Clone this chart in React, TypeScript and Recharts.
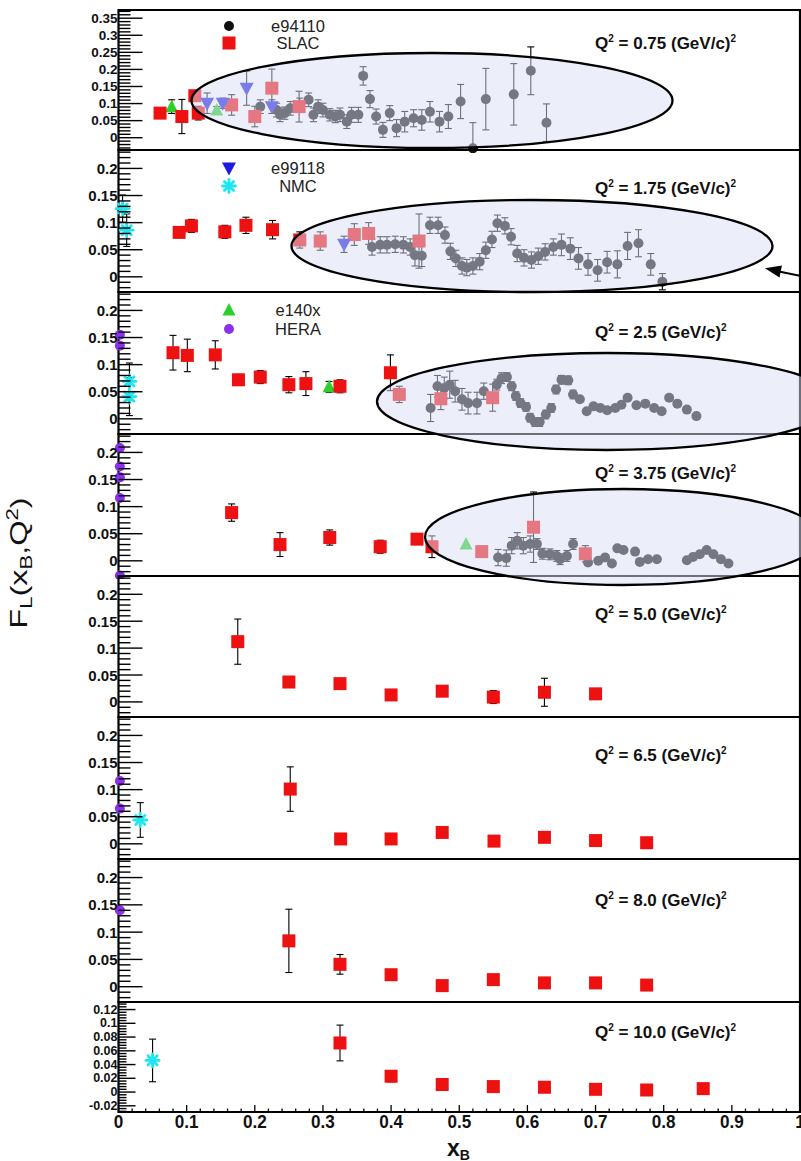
import { ErrorBar, ReferenceArea, Scatter, ScatterChart, XAxis, YAxis } from "recharts";

// [x, F_L, error, lowerError?]
type Pt = [number, number, number, number?];

const FONT = '"Liberation Sans", Arial, Helvetica, sans-serif';

// x axis
const X_LABELS = [0, 0.1, 0.2, 0.3, 0.4, 0.5, 0.6, 0.7, 0.8, 0.9, 1];
// y axis labels
const Y_LABELS_TOP = [0, 0.05, 0.1, 0.15, 0.2, 0.25, 0.3, 0.35];
const Y_LABELS_MID = [0, 0.05, 0.1, 0.15, 0.2];
const Y_LABELS_LOW = [-0.02, 0, 0.02, 0.04, 0.06, 0.08, 0.1, 0.12];

// Q2 = 0.75
const Q075_E94110: Pt[] = [
  [0.208, 0.091, 0.02], [0.232, 0.081, 0.02], [0.237, 0.067, 0.02], [0.244, 0.072, 0.018],
  [0.252, 0.086, 0.02], [0.266, 0.096, 0.02], [0.279, 0.111, 0.02], [0.286, 0.067, 0.02],
  [0.293, 0.091, 0.02], [0.3, 0.081, 0.02], [0.31, 0.067, 0.018], [0.318, 0.062, 0.018],
  [0.325, 0.067, 0.02], [0.335, 0.047, 0.02], [0.342, 0.067, 0.022], [0.352, 0.067, 0.022],
  [0.359, 0.181, 0.027], [0.369, 0.113, 0.025], [0.378, 0.062, 0.022], [0.388, 0.023, 0.022],
  [0.398, 0.072, 0.022], [0.408, 0.028, 0.025], [0.42, 0.047, 0.03], [0.433, 0.057, 0.025],
  [0.445, 0.052, 0.03], [0.457, 0.076, 0.03], [0.471, 0.047, 0.03], [0.484, 0.062, 0.035],
  [0.502, 0.106, 0.05], [0.52, -0.031, 0.075, 0.004], [0.539, 0.113, 0.09], [0.58, 0.127, 0.09],
  [0.605, 0.196, 0.07], [0.628, 0.044, 0.055],
];
const Q075_SLAC: Pt[] = [
  [0.061, 0.072, 0.01], [0.093, 0.062, 0.05], [0.112, 0.123, 0.015], [0.117, 0.072, 0.02],
  [0.166, 0.096, 0.03], [0.2, 0.062, 0.03], [0.225, 0.145, 0.056], [0.265, 0.091, 0.045],
];
const Q075_E99118: Pt[] = [[0.13, 0.101, 0.03], [0.153, 0.101, 0.015], [0.188, 0.145, 0.05], [0.225, 0.091, 0.02]];
const Q075_E140X: Pt[] = [[0.078, 0.091, 0.02], [0.144, 0.081, 0.01]];

// Q2 = 1.75
const Q175_NMC: Pt[] = [[0.006, 0.126, 0.025], [0.012, 0.086, 0.03]];
const Q175_SLAC: Pt[] = [
  [0.089, 0.082, 0.01], [0.107, 0.094, 0.012], [0.156, 0.083, 0.012], [0.187, 0.095, 0.015],
  [0.226, 0.087, 0.017], [0.266, 0.068, 0.015], [0.296, 0.066, 0.017], [0.346, 0.078, 0.02],
  [0.367, 0.08, 0.02], [0.441, 0.066, 0.05],
];
const Q175_E99118: Pt[] = [[0.331, 0.06, 0.015]];
const Q175_E94110: Pt[] = [
  [0.372, 0.055, 0.015], [0.384, 0.059, 0.015], [0.394, 0.059, 0.015], [0.406, 0.06, 0.015],
  [0.418, 0.059, 0.015], [0.428, 0.055, 0.015], [0.435, 0.04, 0.02], [0.445, 0.039, 0.02],
  [0.457, 0.095, 0.015], [0.469, 0.095, 0.015], [0.479, 0.077, 0.015], [0.487, 0.047, 0.015],
  [0.495, 0.034, 0.015], [0.504, 0.02, 0.015], [0.511, 0.017, 0.015], [0.52, 0.02, 0.015],
  [0.53, 0.028, 0.015], [0.539, 0.049, 0.015], [0.548, 0.069, 0.015], [0.556, 0.099, 0.015],
  [0.567, 0.094, 0.015], [0.576, 0.074, 0.015], [0.585, 0.043, 0.015], [0.595, 0.035, 0.015],
  [0.606, 0.031, 0.015], [0.616, 0.038, 0.015], [0.626, 0.046, 0.015], [0.638, 0.055, 0.015],
  [0.65, 0.059, 0.02], [0.663, 0.052, 0.02], [0.675, 0.034, 0.02], [0.689, 0.023, 0.02],
  [0.703, 0.012, 0.02], [0.717, 0.027, 0.02], [0.732, 0.023, 0.025], [0.747, 0.057, 0.025],
  [0.763, 0.062, 0.025], [0.781, 0.023, 0.02], [0.798, -0.009, 0.015],
];

// Q2 = 2.5
const Q25_HERA: Pt[] = [[0.002, 0.155, 0], [0.002, 0.135, 0]];
const Q25_NMC: Pt[] = [[0.016, 0.069, 0.034], [0.016, 0.041, 0.035]];
const Q25_SLAC: Pt[] = [
  [0.08, 0.122, 0.032], [0.101, 0.117, 0.03], [0.142, 0.118, 0.026], [0.176, 0.072, 0.01],
  [0.208, 0.077, 0.012], [0.25, 0.063, 0.015], [0.275, 0.065, 0.022], [0.325, 0.06, 0.012],
  [0.399, 0.085, 0.033], [0.412, 0.045, 0.015], [0.473, 0.037, 0.02], [0.549, 0.039, 0.025],
];
const Q25_E140X: Pt[] = [[0.309, 0.059, 0.01]];
const Q25_E94110: Pt[] = [
  [0.458, 0.02, 0.025], [0.468, 0.06, 0.02], [0.478, 0.057, 0.02], [0.486, 0.063, 0.025],
  [0.494, 0.051, 0.02], [0.504, 0.036, 0.02], [0.513, 0.029, 0.02], [0.526, 0.029, 0.02],
  [0.536, 0.051, 0.015], [0.555, 0.063, 0.01], [0.562, 0.075, 0.01], [0.57, 0.077, 0.008],
  [0.577, 0.06, 0.008], [0.583, 0.042, 0.008], [0.59, 0.029, 0.008], [0.598, 0.022, 0.008],
  [0.604, 0.002, 0.008], [0.611, -0.006, 0.008], [0.618, -0.006, 0.008], [0.627, 0.008, 0.008],
  [0.635, 0.02, 0.008], [0.642, 0.054, 0.008], [0.65, 0.072, 0.008], [0.66, 0.071, 0.008],
  [0.667, 0.045, 0.008], [0.677, 0.036, 0.005], [0.687, 0.014, 0.005], [0.697, 0.023, 0.005],
  [0.707, 0.02, 0.005], [0.717, 0.016, 0.005], [0.729, 0.02, 0.005], [0.738, 0.026, 0.005],
  [0.747, 0.039, 0.005], [0.76, 0.025, 0.005], [0.773, 0.028, 0.005], [0.786, 0.02, 0.005],
  [0.797, 0.014, 0.005], [0.808, 0.039, 0.005], [0.82, 0.028, 0.005], [0.834, 0.017, 0.005],
  [0.848, 0.005, 0.005],
];

// Q2 = 3.75
const Q375_HERA: Pt[] = [[0.002, 0.208, 0], [0.002, 0.174, 0], [0.002, 0.154, 0], [0.002, 0.116, 0], [0.002, -0.027, 0]];
const Q375_SLAC: Pt[] = [
  [0.166, 0.089, 0.016], [0.237, 0.03, 0.022], [0.31, 0.043, 0.014], [0.384, 0.026, 0.012],
  [0.438, 0.04, 0.005], [0.46, 0.026, 0.02], [0.533, 0.017, 0.01], [0.609, 0.062, 0.065],
  [0.685, 0.013, 0.015],
];
const Q375_E140X: Pt[] = [[0.51, 0.031, 0]];
const Q375_E94110: Pt[] = [
  [0.557, 0.006, 0.015], [0.569, 0.005, 0.015], [0.577, 0.028, 0.015], [0.585, 0.037, 0.015],
  [0.594, 0.028, 0.015], [0.604, 0.031, 0.015], [0.614, 0.031, 0.01], [0.622, 0.013, 0.01],
  [0.633, 0.012, 0.01], [0.643, 0.009, 0.01], [0.648, 0.003, 0.01], [0.658, 0.009, 0.01],
  [0.667, 0.031, 0.01], [0.689, -0.003, 0.005], [0.704, 0.0, 0.005], [0.714, 0.006, 0.005],
  [0.724, -0.005, 0.005], [0.732, 0.023, 0.005], [0.741, 0.02, 0.005], [0.758, 0.017, 0.003],
  [0.765, -0.002, 0.003], [0.777, 0.003, 0.003], [0.79, 0.003, 0.003], [0.834, 0.001, 0.003],
  [0.843, 0.007, 0.003], [0.853, 0.012, 0.003], [0.863, 0.02, 0.003], [0.873, 0.012, 0.003],
  [0.884, 0.003, 0.003], [0.895, -0.005, 0.003],
];

// Q2 = 5.0
const Q50_SLAC: Pt[] = [
  [0.175, 0.112, 0.042], [0.25, 0.037, 0.01], [0.325, 0.034, 0.008], [0.4, 0.013, 0.01],
  [0.475, 0.02, 0.006], [0.55, 0.009, 0.012], [0.625, 0.018, 0.026], [0.7, 0.015, 0.006],
];

// Q2 = 6.5
const Q65_HERA: Pt[] = [[0.002, 0.116, 0], [0.002, 0.065, 0]];
const Q65_NMC: Pt[] = [[0.032, 0.044, 0.032]];
const Q65_SLAC: Pt[] = [
  [0.252, 0.101, 0.041], [0.326, 0.009, 0.01], [0.4, 0.009, 0.008], [0.475, 0.021, 0.006],
  [0.551, 0.005, 0.005], [0.625, 0.012, 0.005], [0.7, 0.006, 0.004], [0.775, 0.002, 0.004],
];

// Q2 = 8.0
const Q80_HERA: Pt[] = [[0.002, 0.14, 0]];
const Q80_SLAC: Pt[] = [
  [0.25, 0.084, 0.058], [0.325, 0.041, 0.018], [0.4, 0.022, 0.008], [0.475, 0.002, 0.008],
  [0.55, 0.013, 0.005], [0.625, 0.007, 0.005], [0.7, 0.007, 0.005], [0.775, 0.003, 0.004],
];

// Q2 = 10.0
const Q100_NMC: Pt[] = [[0.05, 0.046, 0.031]];
const Q100_SLAC: Pt[] = [
  [0.325, 0.0714, 0.026], [0.4, 0.023, 0.008], [0.475, 0.011, 0.005], [0.55, 0.008, 0.004],
  [0.625, 0.007, 0.004], [0.7, 0.004, 0.004], [0.775, 0.003, 0.004], [0.858, 0.005, 0.004],
];

type Kind = "e94110" | "slac" | "e99118" | "nmc" | "e140x" | "hera";
type Series = { kind: Kind; pts: Pt[] };

type PanelCfg = {
  q: string;
  top: number;
  h: number;
  lo: number;
  hi: number;
  labels: number[];
  minorStep: number;
  minorFrom: number;
  minorTo: number;
  majorLen: number;
  minorLen: number;
  fontSize: number;
  series: Series[];
};

const PANELS: PanelCfg[] = [
  {
    q: "0.75", top: 10, h: 140, lo: -0.036, hi: 0.374, labels: Y_LABELS_TOP,
    minorStep: 0.01, minorFrom: -0.03, minorTo: 0.37, majorLen: 24, minorLen: 12, fontSize: 13.5,
    series: [
      { kind: "e94110", pts: Q075_E94110 }, { kind: "e140x", pts: Q075_E140X },
      { kind: "slac", pts: Q075_SLAC }, { kind: "e99118", pts: Q075_E99118 },
    ],
  },
  {
    q: "1.75", top: 150, h: 142, lo: -0.028, hi: 0.234, labels: Y_LABELS_MID,
    minorStep: 0.01, minorFrom: -0.02, minorTo: 0.23, majorLen: 24, minorLen: 12, fontSize: 15,
    series: [
      { kind: "e94110", pts: Q175_E94110 }, { kind: "slac", pts: Q175_SLAC },
      { kind: "e99118", pts: Q175_E99118 }, { kind: "nmc", pts: Q175_NMC },
    ],
  },
  {
    q: "2.5", top: 292, h: 142, lo: -0.028, hi: 0.234, labels: Y_LABELS_MID,
    minorStep: 0.01, minorFrom: -0.02, minorTo: 0.23, majorLen: 24, minorLen: 12, fontSize: 15,
    series: [
      { kind: "e94110", pts: Q25_E94110 }, { kind: "e140x", pts: Q25_E140X },
      { kind: "slac", pts: Q25_SLAC }, { kind: "nmc", pts: Q25_NMC }, { kind: "hera", pts: Q25_HERA },
    ],
  },
  {
    q: "3.75", top: 434, h: 142, lo: -0.028, hi: 0.234, labels: Y_LABELS_MID,
    minorStep: 0.01, minorFrom: -0.02, minorTo: 0.23, majorLen: 24, minorLen: 12, fontSize: 15,
    series: [
      { kind: "e94110", pts: Q375_E94110 }, { kind: "e140x", pts: Q375_E140X },
      { kind: "slac", pts: Q375_SLAC }, { kind: "hera", pts: Q375_HERA },
    ],
  },
  {
    q: "5.0", top: 576, h: 141, lo: -0.028, hi: 0.234, labels: Y_LABELS_MID,
    minorStep: 0.01, minorFrom: -0.02, minorTo: 0.23, majorLen: 24, minorLen: 12, fontSize: 15,
    series: [{ kind: "slac", pts: Q50_SLAC }],
  },
  {
    q: "6.5", top: 717, h: 142, lo: -0.028, hi: 0.234, labels: Y_LABELS_MID,
    minorStep: 0.01, minorFrom: -0.02, minorTo: 0.23, majorLen: 24, minorLen: 12, fontSize: 15,
    series: [{ kind: "slac", pts: Q65_SLAC }, { kind: "nmc", pts: Q65_NMC }, { kind: "hera", pts: Q65_HERA }],
  },
  {
    q: "8.0", top: 859, h: 143, lo: -0.028, hi: 0.234, labels: Y_LABELS_MID,
    minorStep: 0.01, minorFrom: -0.02, minorTo: 0.23, majorLen: 24, minorLen: 12, fontSize: 15,
    series: [{ kind: "slac", pts: Q80_SLAC }, { kind: "hera", pts: Q80_HERA }],
  },
  {
    q: "10.0", top: 1002, h: 110, lo: -0.029, hi: 0.131, labels: Y_LABELS_LOW,
    minorStep: 0.004, minorFrom: -0.028, minorTo: 0.128, majorLen: 17, minorLen: 8, fontSize: 12.5,
    series: [{ kind: "slac", pts: Q100_SLAC }, { kind: "nmc", pts: Q100_NMC }],
  },
];

const LEGEND: { kind: Kind; label: string; y: number }[] = [
  { kind: "e94110", label: "e94110", y: 26 },
  { kind: "slac", label: "SLAC", y: 43 },
  { kind: "e99118", label: "e99118", y: 168 },
  { kind: "nmc", label: "NMC", y: 186 },
  { kind: "e140x", label: "e140x", y: 310 },
  { kind: "hera", label: "HERA", y: 329 },
];

// highlighted regions (pixel annotations)
const ELLIPSES = [
  { cx: 432, cy: 100.5, rx: 240.5, ry: 47.5 },
  { cx: 532, cy: 246, rx: 240.5, ry: 46 },
  { cx: 607, cy: 401.5, rx: 230, ry: 48.5 },
  { cx: 623, cy: 537, rx: 198, ry: 48 },
];

const Q_LABEL_Y = [49, 194, 338, 479, 620, 761, 906, 1038];

const M = 3;
const AXIS_H = 48;

function steps(from: number, to: number, step: number) {
  const out: number[] = [];
  const n = Math.round((to - from) / step);
  for (let i = 0; i <= n; i++) out.push(+(from + i * step).toFixed(4));
  return out;
}

const X_MINOR = steps(0, 1, 0.02);

const has = (arr: number[], v: number) => arr.some((m) => Math.abs(m - v) < 1e-6);

function Marker({ kind, cx, cy }: { kind: Kind; cx: number; cy: number }) {
  switch (kind) {
    case "e94110":
      return <circle cx={cx} cy={cy} r={5} fill="#111" />;
    case "hera":
      return <circle cx={cx} cy={cy} r={5} fill="#8d30ec" />;
    case "slac":
      return <rect x={cx - 6.5} y={cy - 6.5} width={13} height={13} fill="#ee1111" />;
    case "e99118":
      return <polygon points={`${cx - 7},${cy - 5.5} ${cx + 7},${cy - 5.5} ${cx},${cy + 7.5}`} fill="#1a1ae0" />;
    case "e140x":
      return <polygon points={`${cx - 6.5},${cy + 5.5} ${cx + 6.5},${cy + 5.5} ${cx},${cy - 7}`} fill="#2bd02b" />;
    case "nmc":
      return (
        <g stroke="#1ee6ef" strokeWidth={2.8} strokeLinecap="round">
          <line x1={cx - 6.5} y1={cy} x2={cx + 6.5} y2={cy} />
          <line x1={cx} y1={cy - 6.5} x2={cx} y2={cy + 6.5} />
          <line x1={cx - 4.6} y1={cy - 4.6} x2={cx + 4.6} y2={cy + 4.6} />
          <line x1={cx - 4.6} y1={cy + 4.6} x2={cx + 4.6} y2={cy - 4.6} />
        </g>
      );
  }
  return null;
}

function Panel({ cfg, last }: { cfg: PanelCfg; last: boolean }) {
  const chartH = cfg.h + 2 * M + (last ? AXIS_H : 0);
  const yTicks = steps(cfg.minorFrom, cfg.minorTo, cfg.minorStep);

  const yTick = (props: any) => {
    const { x, y, payload } = props;
    const major = has(cfg.labels, payload.value);
    return (
      <g>
        <line x1={x} x2={x + (major ? cfg.majorLen : cfg.minorLen)} y1={y} y2={y} stroke="#000" strokeWidth={1.4} />
        {major && (
          <text x={x - 1} y={y} textAnchor="end" dominantBaseline="central" fontFamily={FONT}
            fontWeight="bold" fontSize={cfg.fontSize} fill="#111">
            {String(payload.value)}
          </text>
        )}
      </g>
    );
  };

  const xTick = (props: any) => {
    const { x, y, payload } = props;
    const major = has(X_LABELS, payload.value);
    return (
      <g>
        <line x1={x} x2={x} y1={y} y2={y - (major ? 7 : 3.5)} stroke="#000" strokeWidth={1.3} />
        {last && major && (
          <text transform={`translate(${x},${y + 10}) scale(0.9,1)`} textAnchor="middle" dominantBaseline="central"
            fontFamily={FONT} fontWeight="bold" fontSize={19} fill="#111">
            {String(payload.value)}
          </text>
        )}
      </g>
    );
  };

  return (
    <div style={{ position: "absolute", left: 0, top: cfg.top - M }}>
      <ScatterChart width={801} height={chartH} margin={{ top: M, right: 1, bottom: M, left: 0 }}>
        <XAxis type="number" dataKey="x" domain={[0, 1]} ticks={X_MINOR} interval={0} tickSize={0}
          tickMargin={0} axisLine={false} tickLine={false} height={last ? AXIS_H : 0} tick={xTick} />
        <YAxis type="number" dataKey="y" domain={[cfg.lo, cfg.hi]} ticks={yTicks} interval={0} width={118.5}
          tickSize={0} tickMargin={0} axisLine={false} tickLine={false} tick={yTick} />
        <ReferenceArea x1={0} x2={1} y1={cfg.lo} y2={cfg.hi} fill="none" stroke="#000" strokeWidth={2.2}
          ifOverflow="visible" />
        {cfg.series.map((s, i) => {
          const data = s.pts.map((p) => ({ x: p[0], y: p[1], e: p[3] !== undefined ? [p[3], p[2]] : p[2] }));
          const withErr = s.pts.some((p) => p[2] > 0);
          return (
            <Scatter key={i} data={data} dataKey="y" isAnimationActive={false}
              shape={(p: any) => <Marker kind={s.kind} cx={p.cx} cy={p.cy} />}>
              {withErr && <ErrorBar dataKey="e" direction="y" width={3.5} stroke="#000" strokeWidth={1.1} />}
            </Scatter>
          );
        })}
      </ScatterChart>
    </div>
  );
}

export default function App() {
  return (
    <div style={{ position: "absolute", left: 0, top: 0, width: 801, height: 1161, background: "#fff", overflow: "hidden" }}>
      {PANELS.map((cfg, i) => (
        <Panel key={cfg.q} cfg={cfg} last={i === PANELS.length - 1} />
      ))}
      <svg width={801} height={1161} style={{ position: "absolute", left: 0, top: 0, pointerEvents: "none" }}>
        {ELLIPSES.map((e, i) => (
          <ellipse key={i} cx={e.cx} cy={e.cy} rx={e.rx} ry={e.ry} fill="rgba(218,222,244,0.5)"
            stroke="#000" strokeWidth={2.3} />
        ))}
        <line x1={801} y1={276} x2={779} y2={271.5} stroke="#000" strokeWidth={2} />
        <polygon points="765,268.3 781.9,265.6 779.5,277.4" fill="#000" />

        {PANELS.map((cfg, i) => (
          <text key={cfg.q} x={595} y={Q_LABEL_Y[i]} fontFamily={FONT} fontWeight="bold" fontSize={17} fill="#111">
            Q<tspan dy={-7} fontSize={10}>2</tspan>
            <tspan dy={7}>{` = ${cfg.q} (GeV/c)`}</tspan>
            <tspan dy={-7} fontSize={10}>2</tspan>
          </text>
        ))}

        {LEGEND.map((l) => (
          <g key={l.label}>
            <Marker kind={l.kind} cx={229} cy={l.y} />
            <text x={298} y={l.y + 5.5} textAnchor="middle" fontFamily={FONT} fontSize={16.5} fill="#222">
              {l.label}
            </text>
          </g>
        ))}

        <text transform="translate(27,563) rotate(-90) scale(1.05,0.75)" textAnchor="middle"
          fontFamily={FONT} fontSize={31} fill="#111">
          F<tspan dy={7} fontSize={21}>L</tspan>
          <tspan dy={-7}>(x</tspan>
          <tspan dy={7} fontSize={21}>B</tspan>
          <tspan dy={-7}>,Q</tspan>
          <tspan dy={-12} fontSize={21}>2</tspan>
          <tspan dy={12}>)</tspan>
        </text>

        <text x={447} y={1156} fontFamily={FONT} fontWeight="bold" fontSize={23} fill="#111">
          x<tspan dy={4} fontSize={14}>B</tspan>
        </text>
      </svg>
    </div>
  );
}
